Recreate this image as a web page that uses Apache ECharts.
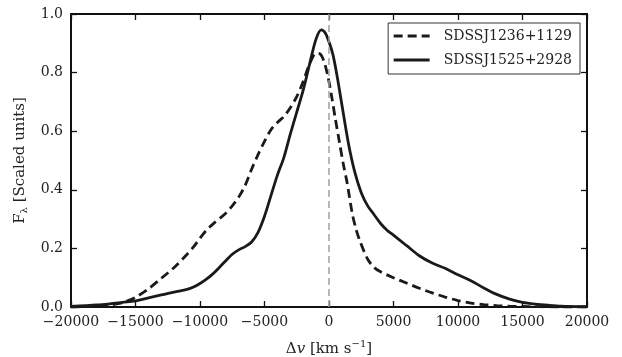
<!DOCTYPE html>
<html>
<head>
<meta charset="utf-8">
<script src="https://cdn.jsdelivr.net/npm/echarts@6/dist/echarts.min.js"></script>
<style>
html,body{margin:0;padding:0;background:#fff;}
#chart{width:622px;height:357px;}
</style>
</head>
<body>
<div id="chart"></div>
<script>
// Velocity grid (km/s) and scaled flux for each object
const seriesNames = ['SDSSJ1236+1129', 'SDSSJ1525+2928'];

const v1236 = [-20000,-18000,-17000,-16000,-15000,-14000,-13000,-12000,-11000,-10500,-10000,-9500,-9000,-8000,-7500,-7000,-6500,-6000,-5500,-5000,-4500,-4000,-3500,-3000,-2500,-2000,-1500,-1000,-700,-400,-100,200,500,800,1100,1400,1800,2100,2400,3000,3500,4000,5000,6000,7000,8000,9000,10000,11000,12000,13000,14000,15000,16000,18000,20000];
const f1236 = [0.0,0.003,0.007,0.015,0.033,0.062,0.098,0.135,0.18,0.205,0.235,0.262,0.283,0.32,0.345,0.375,0.415,0.47,0.52,0.565,0.605,0.63,0.65,0.68,0.718,0.77,0.83,0.866,0.864,0.84,0.79,0.72,0.64,0.565,0.49,0.425,0.32,0.265,0.225,0.163,0.135,0.12,0.1,0.082,0.064,0.048,0.034,0.022,0.013,0.008,0.005,0.003,0.002,0.001,0.0,0.0];

const v1525 = [-20000,-18000,-17000,-16000,-15000,-14000,-13000,-12000,-11000,-10500,-10000,-9500,-9000,-8500,-8000,-7500,-7000,-6500,-6000,-5500,-5000,-4500,-4000,-3500,-3000,-2500,-2000,-1500,-1000,-600,-300,0,300,600,1000,1500,2000,2500,3000,3500,4000,4500,5000,6000,7000,8000,9000,10000,11000,12000,13000,14000,15000,16000,17000,18000,20000];
const f1525 = [0.002,0.007,0.011,0.016,0.021,0.031,0.041,0.051,0.06,0.068,0.08,0.095,0.113,0.135,0.158,0.18,0.195,0.206,0.222,0.255,0.31,0.38,0.45,0.51,0.59,0.665,0.74,0.83,0.915,0.946,0.936,0.905,0.862,0.795,0.69,0.56,0.46,0.39,0.345,0.315,0.285,0.262,0.245,0.21,0.175,0.15,0.132,0.11,0.09,0.065,0.043,0.027,0.016,0.01,0.006,0.003,0.001];

const xTicks = {min: -20000, max: 20000, interval: 5000};
const yTicks = {min: 0, max: 1.0, interval: 0.2};
const refLineX = 0;

const FONT = 'DejaVu Serif';
const minus = s => String(s).replace('-', '\u2212');

const chart = echarts.init(document.getElementById('chart'), null, {renderer: 'canvas'});

const axisLineStyle = {color: '#111', width: 2};
const tickInside = {show: true, inside: true, length: 6, lineStyle: {color: '#111', width: 1.3}};

const option = {
  animation: false,
  backgroundColor: '#fff',
  grid: {left: 71, right: 35, top: 14, bottom: 50, containLabel: false, outerBoundsMode: 'none'},
  legend: {
    orient: 'vertical',
    right: 42,
    top: 23,
    padding: [6, 8, 7, 4],
    itemWidth: 36,
    itemHeight: 14,
    itemGap: 10,
    borderColor: '#333',
    borderWidth: 1,
    borderRadius: 0,
    backgroundColor: '#fff',
    itemStyle: {opacity: 0, borderWidth: 0},
    lineStyle: {width: 3},
    textStyle: {fontFamily: FONT, fontSize: 14, color: '#222', padding: [0, 0, 0, 9]},
    data: seriesNames
  },
  xAxis: [
    {
      type: 'value', position: 'bottom',
      min: xTicks.min, max: xTicks.max, interval: xTicks.interval,
      axisLine: {show: true, onZero: false, lineStyle: axisLineStyle},
      axisTick: tickInside,
      splitLine: {show: false},
      axisLabel: {fontFamily: FONT, fontSize: 14, color: '#222', margin: 8, formatter: v => minus(v)},
      name: '\u0394{i|v} [km s{sup|\u22121}]',
      nameLocation: 'middle',
      nameGap: 32,
      nameTextStyle: {
        fontFamily: FONT, fontSize: 15, color: '#222',
        rich: {
          i: {fontFamily: FONT, fontSize: 15, fontStyle: 'italic', color: '#222'},
          sup: {fontFamily: FONT, fontSize: 10, color: '#222', verticalAlign: 'top', lineHeight: 20}
        }
      }
    },
    {
      type: 'value', position: 'top',
      min: xTicks.min, max: xTicks.max, interval: xTicks.interval,
      axisLine: {show: true, onZero: false, lineStyle: axisLineStyle},
      axisTick: tickInside,
      axisLabel: {show: false},
      splitLine: {show: false}
    }
  ],
  yAxis: [
    {
      type: 'value', position: 'left',
      min: yTicks.min, max: yTicks.max, interval: yTicks.interval,
      axisLine: {show: true, onZero: false, lineStyle: axisLineStyle},
      axisTick: tickInside,
      splitLine: {show: false},
      axisLabel: {fontFamily: FONT, fontSize: 14, color: '#222', margin: 8, formatter: v => v.toFixed(1)},
      name: '{f|F}{s|\u03bb}{f| [Scaled units]}',
      nameLocation: 'middle',
      nameGap: 36,
      nameRotate: 90,
      nameTextStyle: {
        fontFamily: FONT, fontSize: 15, color: '#222',
        rich: {
          f: {fontFamily: FONT, fontSize: 15, color: '#222', lineHeight: 20},
          s: {fontFamily: FONT, fontSize: 10, color: '#222', verticalAlign: 'bottom', lineHeight: 20}
        }
      }
    },
    {
      type: 'value', position: 'right',
      min: yTicks.min, max: yTicks.max, interval: yTicks.interval,
      axisLine: {show: true, onZero: false, lineStyle: axisLineStyle},
      axisTick: tickInside,
      axisLabel: {show: false},
      splitLine: {show: false}
    }
  ],
  series: [
    {
      name: seriesNames[0],
      type: 'line',
      smooth: 0.3,
      symbol: 'none',
      data: v1236.map((v, i) => [v, f1236[i]]),
      lineStyle: {color: '#1a1a1a', width: 2.8, type: [9, 5]},
      itemStyle: {color: '#1a1a1a'},
      z: 3,
      markLine: {
        silent: true,
        symbol: 'none',
        label: {show: false},
        lineStyle: {color: '#a0a0a0', width: 1.5, type: [7, 4]},
        data: [{xAxis: refLineX}]
      }
    },
    {
      name: seriesNames[1],
      type: 'line',
      smooth: 0.3,
      symbol: 'none',
      data: v1525.map((v, i) => [v, f1525[i]]),
      lineStyle: {color: '#1a1a1a', width: 2.8, type: 'solid'},
      itemStyle: {color: '#1a1a1a'},
      z: 4
    }
  ]
};
chart.setOption(option);
</script>
</body>
</html>
